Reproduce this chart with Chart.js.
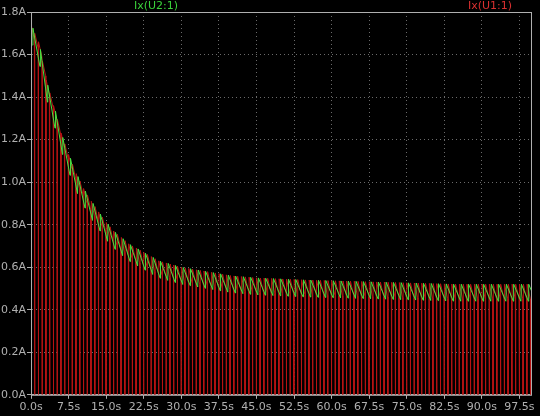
<!DOCTYPE html>
<html>
<head>
<script src="https://cdn.jsdelivr.net/npm/chart.js@4/dist/chart.umd.min.js"></script>
<style>
html, body { margin: 0; background: #000; }
#wrap { width: 540px; height: 416px; }
</style>
</head>
<body>
<div id="wrap"><canvas id="chart"></canvas></div>
<script>
// peak envelope (time in s, current in A)
const envTimes = [0, 1.5, 3, 4.5, 6, 7.5, 9, 10.5, 12, 13.5, 15, 16.5, 18, 19.5, 21, 22.5, 24, 25.5, 27, 28.5, 30, 35, 40, 45, 55, 70, 85, 100]
const envPeak  = [1.74, 1.66, 1.48, 1.36, 1.23, 1.13, 1.04, 0.97, 0.91, 0.86, 0.81, 0.77, 0.74, 0.71, 0.69, 0.67, 0.65, 0.63, 0.62, 0.61, 0.60, 0.58, 0.56, 0.55, 0.54, 0.53, 0.52, 0.52]
const greenPeriod = 1.5   // s, read from spacing of green teeth
const redPeriod = 0.75    // s, red pulses
const greenDrop = 0.08    // A, depth of each green tooth
const redDrop = 0.07
const xTicks = [0, 7.5, 15, 22.5, 30, 37.5, 45, 52.5, 60, 67.5, 75, 82.5, 90, 97.5]

function envAt(t) {
    for (let i = 1; i < envTimes.length; i++) {
        if (t <= envTimes[i]) {
            const f = (t - envTimes[i - 1]) / (envTimes[i] - envTimes[i - 1])
            return envPeak[i - 1] + f * (envPeak[i] - envPeak[i - 1])
        }
    }
    return envPeak[envPeak.length - 1]
}

const green = []
for (let t = 0.3; t < 99.7; t += greenPeriod) {
    const p = envAt(t)
    green.push({x: t, y: p - greenDrop}, {x: t + 0.08, y: p}, {x: t + greenPeriod - 0.02, y: envAt(t + greenPeriod) - greenDrop})
}
const red = []
for (let t = 0; t < 99.7; t += redPeriod) {
    const p = envAt(t)
    red.push({x: t, y: 0}, {x: t + 0.03, y: p}, {x: t + redPeriod - 0.08, y: p - redDrop}, {x: t + redPeriod - 0.05, y: 0})
}

const titles = {
    id: 'titles',
    afterDraw(chart) {
        const ctx = chart.ctx
        ctx.save()
        ctx.font = '11px "DejaVu Sans"'
        ctx.textBaseline = 'top'
        ctx.fillStyle = '#3ad13a'
        ctx.fillText('Ix(U2:1)', 134, 1)
        ctx.fillStyle = '#d83030'
        ctx.fillText('Ix(U1:1)', 468, 1)
        ctx.restore()
    }
}

const gridStyle = {color: '#6a6a6a', lineWidth: 1, tickLength: 4, tickColor: '#b0b0b0'}

new Chart(document.getElementById('chart').getContext('2d'), {
    type: 'line',
    data: {
        datasets: [
            {data: red, borderColor: '#b81414', borderWidth: 1, pointRadius: 0, order: 2},
            {data: green, borderColor: '#48e040', borderWidth: 1, pointRadius: 0, order: 1}
        ]
    },
    options: {
        responsive: true,
        maintainAspectRatio: false,
        animation: false,
        parsing: false,
        layout: {padding: {top: 12, right: 9, left: 0, bottom: 0}},
        plugins: {legend: {display: false}, tooltip: {enabled: false}},
        scales: {
            x: {
                type: 'linear', min: 0, max: 99.8,
                afterBuildTicks: axis => { axis.ticks = xTicks.map(v => ({value: v})) },
                ticks: {color: '#b0b0b0', font: {size: 11, family: 'DejaVu Sans'}, maxRotation: 0, padding: 2,
                    callback: v => v.toFixed(1) + 's'},
                grid: gridStyle,
                border: {color: '#b0b0b0', dash: [1, 3]}
            },
            y: {
                min: 0, max: 1.8,
                ticks: {stepSize: 0.2, color: '#b0b0b0', font: {size: 11, family: 'DejaVu Sans'}, padding: 1,
                    callback: v => v.toFixed(1) + 'A'},
                grid: gridStyle,
                border: {color: '#b0b0b0', dash: [1, 3]}
            }
        }
    },
    plugins: [titles, {
        id: 'frame',
        afterDraw(chart) {
            const a = chart.chartArea, ctx = chart.ctx
            ctx.save()
            ctx.strokeStyle = '#b0b0b0'
            ctx.strokeRect(a.left + 0.5, a.top + 0.5, a.right - a.left, a.bottom - a.top)
            ctx.restore()
        }
    }]
})
</script>
</body>
</html>
